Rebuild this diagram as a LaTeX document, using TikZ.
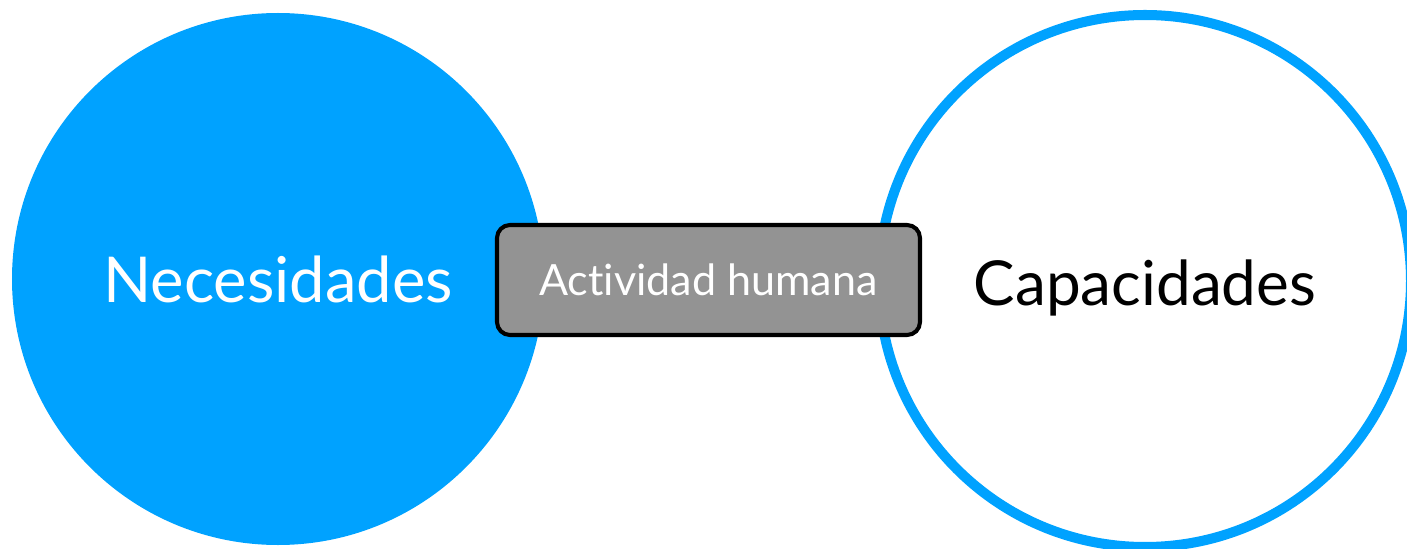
\documentclass[tikz,border=0pt]{standalone}
\usepackage{fontspec}
\setmainfont{Lato}[Ligatures=NoCommon]
\definecolor{skyblue}{HTML}{00A2FF}
\definecolor{boxgray}{HTML}{939393}
\tikzset{
  bigword/.style={font=\fontsize{36}{40}\selectfont, text depth=0pt},
  actbox/.style={draw=black, line width=2.3pt, fill=boxgray, rounded corners=0.26cm,
    minimum width=8.46cm, minimum height=2.2cm, text=white,
    font=\fontsize{24.5}{28}\selectfont}
}

\begin{document}
\begin{tikzpicture}
    \useasboundingbox (0,0) rectangle (28.14,10.96);
    \node[circle, fill=skyblue, minimum size=10.64cm, inner sep=0pt, text=white, bigword] (nec) at (5.56,5.38) {Necesidades};
    \node[circle, draw=skyblue, line width=5.7pt, minimum size=10.64cm, inner sep=0pt, bigword, font=\fontsize{35.3}{40}\selectfont, text height=0.98cm] (cap) at (22.9,5.34) {Capacidades};
    \node[actbox] (act) at (14.17,5.36) {Actividad humana};
\end{tikzpicture}
\end{document}
